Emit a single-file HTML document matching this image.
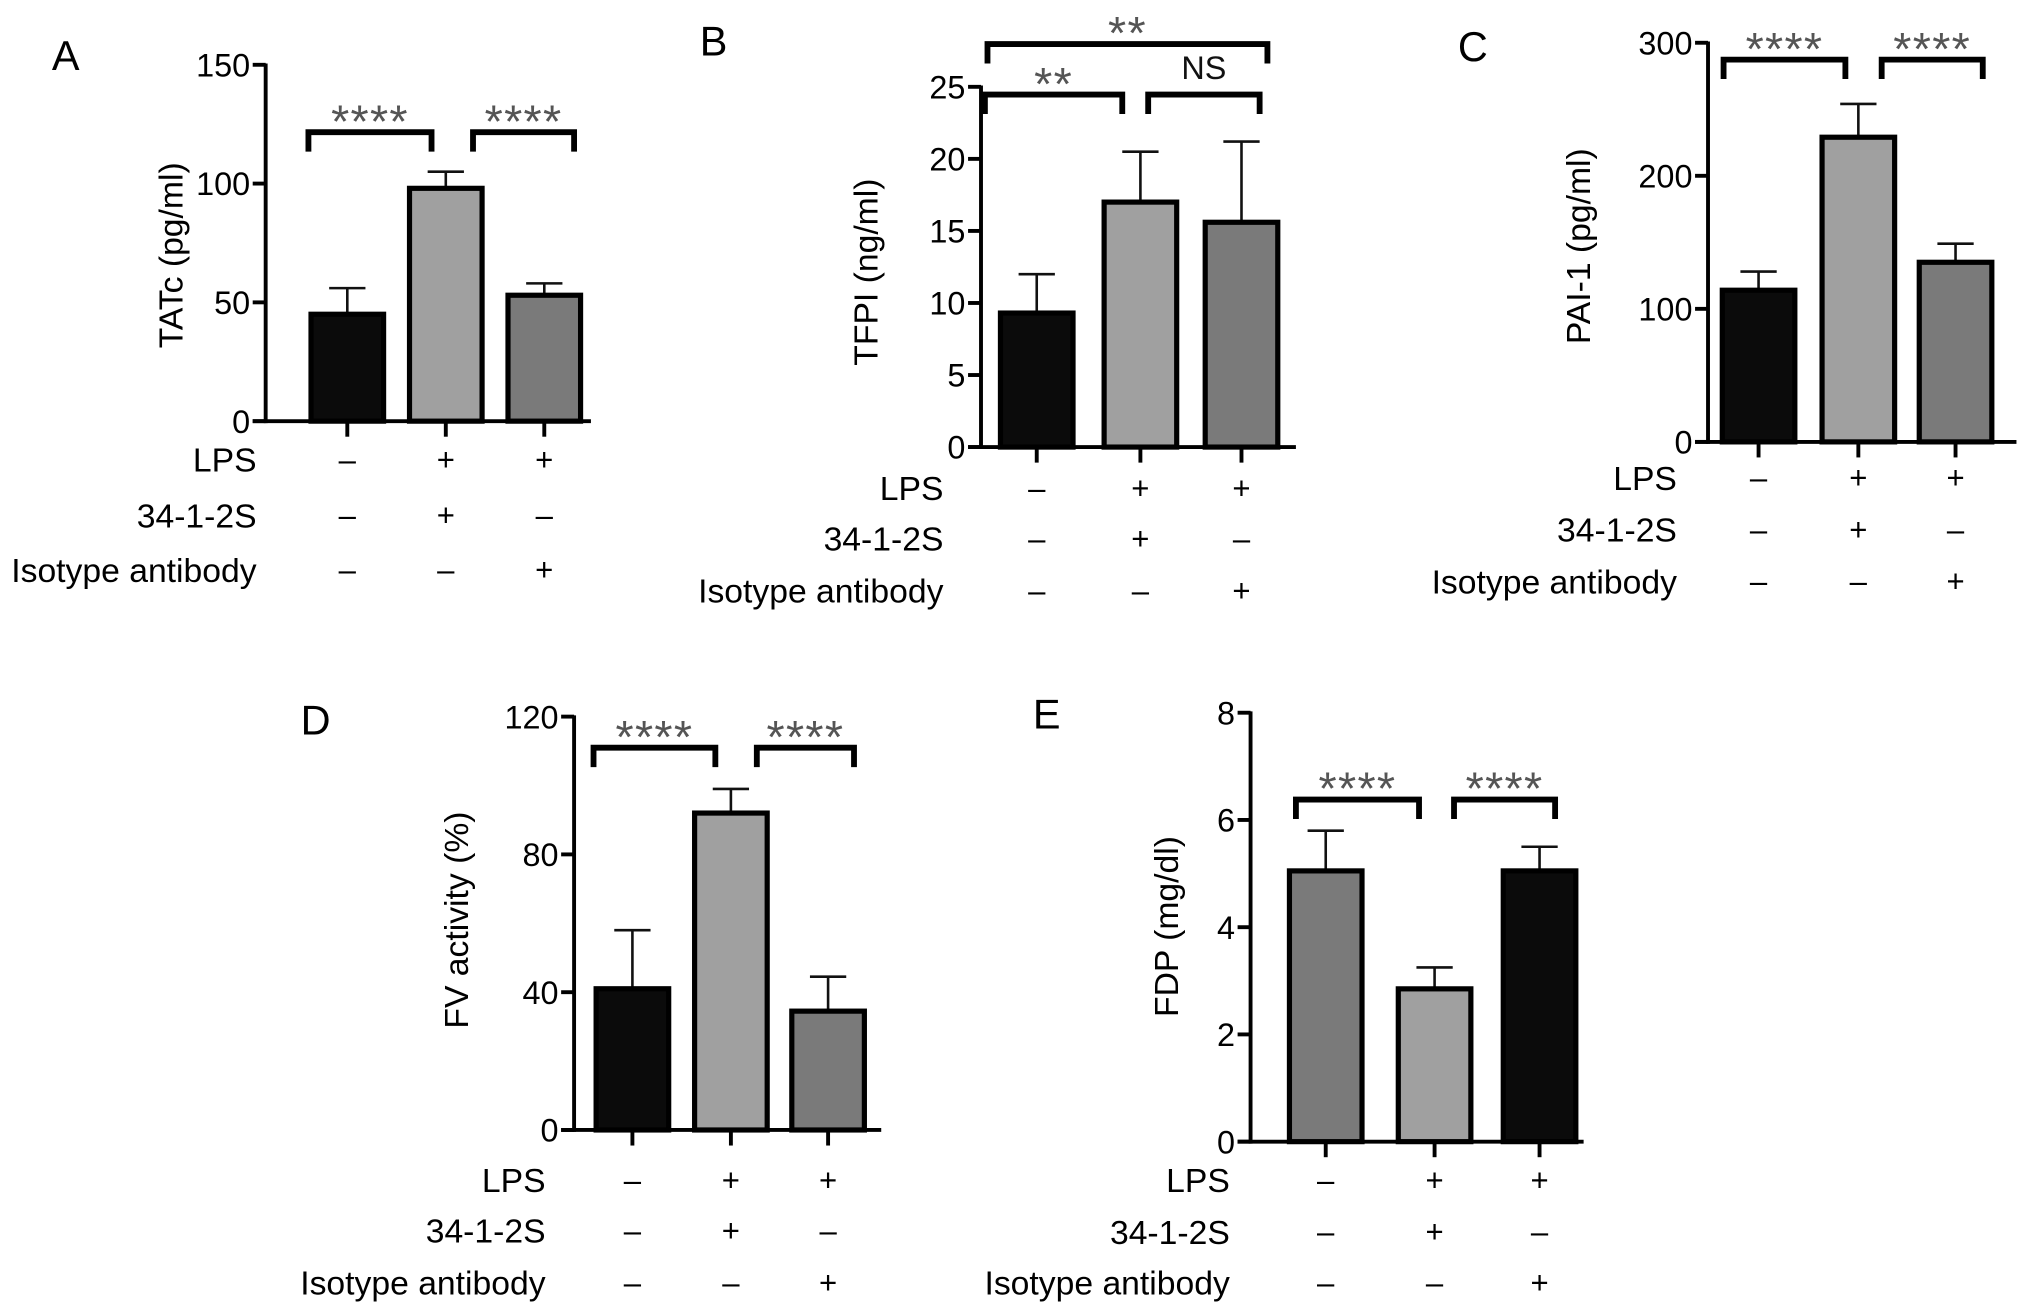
<!DOCTYPE html>
<html><head><meta charset="utf-8"><style>
html,body{margin:0;padding:0;background:#fff;}
svg{display:block;font-family:"Liberation Sans",Arial,sans-serif;}
</style></head><body>
<svg id="fig" width="2032" height="1314" viewBox="0 0 1568 1014" preserveAspectRatio="none" xmlns="http://www.w3.org/2000/svg"></svg>
<script>
// Panel data
const categories = ["control", "lps-34-1-2s", "lps-isotype"];
const rowLabels = ["LPS", "34-1-2S", "Isotype antibody"];
const signs = [["–","+","+"],["–","+","–"],["–","–","+"]];
const valuesA = [45, 98, 53];
const errorsA = [56, 105, 58];
const ticksA = [0, 50, 100, 150];
const valuesB = [9.3, 17, 15.6];
const errorsB = [12, 20.5, 21.2];
const ticksB = [0, 5, 10, 15, 20, 25];
const valuesC = [114, 229, 135];
const errorsC = [128, 254, 149];
const ticksC = [0, 100, 200, 300];
const valuesD = [41, 92, 34.5];
const errorsD = [58, 99, 44.5];
const ticksD = [0, 40, 80, 120];
const valuesE = [5.05, 2.85, 5.05];
const errorsE = [5.8, 3.25, 5.5];
const ticksE = [0, 2, 4, 6, 8];

const NS = "http://www.w3.org/2000/svg";
const svg = document.getElementById("fig");
function mk(tag, attrs, parent, text) {
  const e = document.createElementNS(NS, tag);
  for (const k in attrs) e.setAttribute(k, attrs[k]);
  if (text !== undefined) e.textContent = text;
  (parent || svg).appendChild(e);
  return e;
}
const C_BLACK = "#0b0b0b", C_LIGHT = "#a0a0a0", C_DARK = "#7a7a7a";

function panel(p) {
  const g = mk("g", {});
  
  
  const y = v => p.y0 - (v - p.ticks[0]) / (p.ticks[p.ticks.length - 1] - p.ticks[0]) * (p.y0 - p.yTop);
  const letter = mk("text", {x: p.lx, y: p.ly, "font-size": 32}, g, p.letter);
  
  
  p.vals.forEach((v, i) => {
    const cx = p.xs[i];
    const eb = mk("g", {}, g);
    
    
    mk("line", {x1: cx, x2: cx, y1: y(v), y2: y(p.errs[i]), stroke: "#111", "stroke-width": 2}, eb);
    mk("line", {x1: cx - 14, x2: cx + 14, y1: y(p.errs[i]), y2: y(p.errs[i]), stroke: "#111", "stroke-width": 2}, eb);
    const r = mk("rect", {x: cx - p.bw / 2, y: y(v), width: p.bw, height: p.y0 - y(v), fill: p.colors[i], stroke: "#000", "stroke-width": 4}, g);
    
    
  });
  const ya = mk("g", {}, g);
  
  
  mk("line", {x1: p.ax, x2: p.ax, y1: p.yTop - 1, y2: p.y0 + 1.5, stroke: "#000", "stroke-width": 3}, ya);
  p.ticks.forEach(t => {
    mk("line", {x1: p.ax - 10, x2: p.ax, y1: y(t), y2: y(t), stroke: "#000", "stroke-width": 3}, ya);
    const tl = mk("text", {x: p.ax - 12, y: y(t) + 9, "font-size": 25, "text-anchor": "end"}, ya, t);
    
    
  });
  const xa = mk("g", {}, g);
  
  
  mk("line", {x1: p.ax - 10, x2: p.axEnd, y1: p.y0, y2: p.y0, stroke: "#000", "stroke-width": 3}, xa);
  p.xs.forEach(cx => mk("line", {x1: cx, x2: cx, y1: p.y0, y2: p.y0 + 12, stroke: "#000", "stroke-width": 3}, xa));
  const yl = mk("text", {x: 0, y: 0, "font-size": 26, "text-anchor": "middle", transform: `translate(${p.ylx},${p.yly}) rotate(-90)`}, g, p.ylabel);
  
  
  rowLabels.forEach((lab, r) => {
    const ry = p.rows[r];
    const t = mk("text", {x: p.rlx, y: ry + 9, "font-size": 26, "text-anchor": "end"}, g, lab);
    
    
    signs[r].forEach((s, i) => {
      const st = mk("text", {x: p.xs[i], y: ry + 8, "font-size": 24, "text-anchor": "middle"}, g, s);
      
      
    });
  });
  p.br.forEach(b => {
    const bg = mk("g", {}, g);
    
    
    mk("path", {d: `M${b[0]},${b[2] + 15} V${b[2]} H${b[1]} V${b[2] + 15}`, fill: "none", stroke: "#000", "stroke-width": 4.5, "stroke-linejoin": "miter"}, bg);
    const lab = b[3];
    const tt = mk("text", {x: (b[0] + b[1]) / 2, y: lab === "NS" ? b[2] - 12 : b[2] + 4, "font-size": lab === "NS" ? 25 : 36, "text-anchor": "middle", fill: lab === "NS" ? "#111" : "#555", "letter-spacing": lab === "NS" ? 0 : 1}, bg, lab);
    
    
  });
}

const std = [C_BLACK, C_LIGHT, C_DARK];
panel({letter: "A", lx: 40, ly: 54, ax: 205, axEnd: 456, yTop: 50, y0: 325, ticks: ticksA, vals: valuesA, errs: errorsA,
  xs: [268, 344, 420], bw: 56, colors: std, ylabel: "TATc (pg/ml)", ylx: 141, yly: 197,
  rows: [355, 398, 440], rlx: 198, br: [[238, 333, 102, "****"], [365, 443, 102, "****"]]});
panel({letter: "B", lx: 540, ly: 43, ax: 757, axEnd: 1000, yTop: 67, y0: 345, ticks: ticksB, vals: valuesB, errs: errorsB,
  xs: [800, 880, 958], bw: 56, colors: std, ylabel: "TFPI (ng/ml)", ylx: 677, yly: 210,
  rows: [377, 416, 456], rlx: 728, br: [[760, 866, 73, "**"], [886, 972, 73, "NS"], [762, 978, 34, "**"]]});
panel({letter: "C", lx: 1125, ly: 47, ax: 1318, axEnd: 1556, yTop: 33, y0: 341, ticks: ticksC, vals: valuesC, errs: errorsC,
  xs: [1357, 1434, 1509], bw: 56, colors: std, ylabel: "PAI-1 (pg/ml)", ylx: 1227, yly: 190,
  rows: [369, 409, 449], rlx: 1294, br: [[1330, 1424, 46, "****"], [1452, 1530, 46, "****"]]});
panel({letter: "D", lx: 232, ly: 567, ax: 443, axEnd: 680, yTop: 553, y0: 872, ticks: ticksD, vals: valuesD, errs: errorsD,
  xs: [488, 564, 639], bw: 56, colors: std, ylabel: "FV activity (%)", ylx: 361, yly: 710,
  rows: [911, 950, 990], rlx: 421, br: [[458, 552, 577, "****"], [584, 659, 577, "****"]]});
panel({letter: "E", lx: 797, ly: 562, ax: 965, axEnd: 1222, yTop: 550, y0: 881, ticks: ticksE, vals: valuesE, errs: errorsE,
  xs: [1023, 1107, 1188], bw: 56, colors: [C_DARK, C_LIGHT, C_BLACK], ylabel: "FDP (mg/dl)", ylx: 909, yly: 715,
  rows: [911, 951, 990], rlx: 949, br: [[1000, 1095, 617, "****"], [1122, 1200, 617, "****"]]});
</script>
</body></html>
